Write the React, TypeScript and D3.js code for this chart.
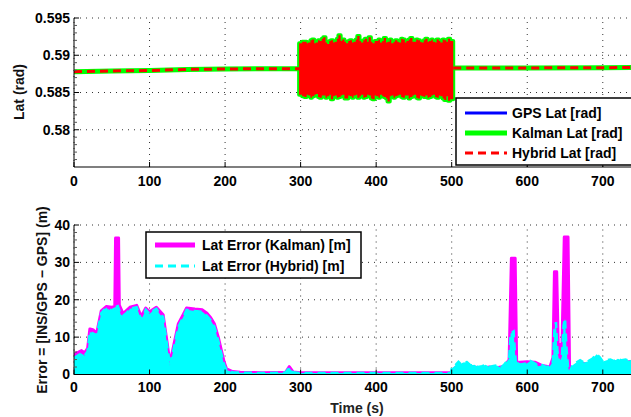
import React from 'react';
import * as d3 from 'd3';

const W = 631;
const H = 417;

const xTicks = [0, 100, 200, 300, 400, 500, 600, 700];
const latTicks = [0.58, 0.585, 0.59, 0.595];
const latTickLabels = ['0.58', '0.585', '0.59', '0.595'];
const errTicks = [0, 10, 20, 30, 40];

// Lat baseline (GPS / Kalman / Hybrid coincide outside the noisy window)
const latBefore: [number, number][] = [
  [0, 0.5878], [50, 0.5879], [100, 0.58795], [150, 0.5881], [200, 0.58815], [250, 0.5882], [298, 0.5882],
];
const latAfter: [number, number][] = [
  [502, 0.5883], [600, 0.5883], [700, 0.58833], [740, 0.58835],
];

// Noisy window 300–500 s: [time, upper envelope, lower envelope]
const latNoise: [number, number, number][] = [
  [298, 0.5916, 0.5847], [302, 0.5918, 0.5845], [305, 0.5918, 0.5844], [308, 0.5916, 0.5847], [310, 0.5917, 0.5846],
  [313, 0.592, 0.5843], [315, 0.5921, 0.5845], [318, 0.5916, 0.5847], [320, 0.5917, 0.5848], [323, 0.592, 0.5844],
  [325, 0.5919, 0.5843], [328, 0.5922, 0.5846], [330, 0.5924, 0.5846], [333, 0.5917, 0.5843], [335, 0.5915, 0.5845],
  [338, 0.5919, 0.5847], [340, 0.592, 0.5841], [343, 0.5917, 0.5845], [345, 0.5918, 0.5846], [348, 0.5922, 0.5843],
  [350, 0.5927, 0.5844], [353, 0.5919, 0.5846], [355, 0.5921, 0.5847], [358, 0.5918, 0.5842], [360, 0.5916, 0.5842],
  [363, 0.5919, 0.5846], [365, 0.592, 0.5845], [368, 0.5917, 0.5843], [370, 0.5918, 0.5846], [373, 0.5921, 0.5847],
  [375, 0.5926, 0.5843], [378, 0.5919, 0.5845], [380, 0.5917, 0.5847], [383, 0.592, 0.5843], [385, 0.5922, 0.5844],
  [388, 0.5918, 0.5847], [390, 0.5924, 0.5846], [393, 0.5918, 0.5842], [395, 0.5916, 0.5841], [398, 0.5919, 0.5846],
  [400, 0.5919, 0.5845], [403, 0.5921, 0.5843], [405, 0.5917, 0.5847], [408, 0.5919, 0.5845], [410, 0.5923, 0.5844],
  [413, 0.5917, 0.5842], [415, 0.5918, 0.5838], [418, 0.5921, 0.5845], [420, 0.5916, 0.5846], [423, 0.5918, 0.5843],
  [425, 0.592, 0.5845], [428, 0.5918, 0.5846], [430, 0.5917, 0.5847], [433, 0.5922, 0.5844], [435, 0.5921, 0.5843],
  [438, 0.5917, 0.5846], [440, 0.5919, 0.5846], [443, 0.5921, 0.5842], [445, 0.5923, 0.5844], [448, 0.5918, 0.5846],
  [450, 0.5918, 0.5847], [453, 0.5921, 0.5843], [455, 0.592, 0.5842], [458, 0.5918, 0.5846], [460, 0.5917, 0.5845],
  [463, 0.592, 0.5844], [465, 0.5922, 0.5846], [468, 0.5918, 0.5843], [470, 0.5919, 0.5844], [473, 0.5921, 0.5846],
  [475, 0.5918, 0.5847], [478, 0.5917, 0.5844], [480, 0.5921, 0.5843], [483, 0.5919, 0.5846], [485, 0.5917, 0.5845],
  [488, 0.5921, 0.5842], [490, 0.592, 0.584], [493, 0.5918, 0.5845], [495, 0.5922, 0.5839], [498, 0.5919, 0.5841],
  [502, 0.5918, 0.5845],
];

// Error envelopes [time, metres]
const kalmanErr: [number, number][] = [
  [0, 5.2], [3, 5.8], [6, 6.0], [10, 6.4], [14, 5.8], [18, 7.0], [21, 12.2], [25, 12.0], [30, 11.0],
  [36, 17.0], [43, 18.2], [50, 18.0], [54, 18.2], [55, 36.5], [59, 36.5], [60, 18.6], [65, 16.3],
  [74, 18.0], [83, 18.5], [89, 15.5], [95, 17.8], [100, 16.8], [109, 18.0], [118, 16.0], [123, 9.0],
  [127, 3.0], [132, 7.8], [138, 13.5], [145, 16.2], [149, 17.8], [160, 17.5], [170, 17.3], [176, 16.4],
  [181, 15.2], [186, 13.5], [191, 10.0], [195, 6.5], [199, 3.2], [202, 1.5], [210, 0.8], [220, 0.6],
  [250, 0.5], [280, 0.6], [285, 2.1], [290, 0.7], [300, 0.5], [350, 0.5], [400, 0.5], [450, 0.5],
  [499, 0.5], [500, 1.0], [505, 1.8], [509, 2.6], [515, 2.4], [520, 2.5], [530, 2.0], [540, 1.6],
  [550, 2.0], [560, 1.8], [570, 2.2], [576, 4.0], [579, 31.1], [584, 31.1], [586, 3.3], [590, 3.3],
  [600, 3.4], [610, 3.3], [620, 2.4], [630, 2.0], [634, 4.5], [636, 27.5], [639, 27.5], [641, 8.0],
  [646, 8.0], [649, 36.8], [654, 36.8], [656, 2.0], [660, 1.0], [670, 3.0], [680, 2.8], [692, 4.6],
  [700, 2.8], [710, 3.3], [720, 3.5], [730, 3.3], [740, 3.5],
];

const hybridErr: [number, number][] = [
  [0, 4.5], [3, 4.8], [6, 5.2], [10, 5.6], [14, 5.0], [18, 6.2], [21, 11.4], [25, 11.0], [30, 10.5],
  [36, 16.4], [43, 18.0], [47, 16.5], [50, 17.6], [58, 18.3], [62, 16.0], [65, 15.7], [70, 16.5], [74, 17.6],
  [83, 18.0], [89, 14.6], [95, 17.3], [100, 16.2], [104, 17.0], [109, 17.6], [114, 16.0], [118, 15.4],
  [123, 8.2], [127, 2.4], [132, 6.9], [138, 12.7], [145, 15.5], [149, 17.3], [160, 17.0], [170, 16.8],
  [176, 15.7], [181, 14.5], [186, 12.7], [191, 9.0], [195, 5.6], [199, 2.5], [202, 1.2], [210, 0.6],
  [220, 0.5], [250, 0.4], [280, 0.5], [285, 1.8], [290, 0.6], [300, 0.4], [350, 0.4], [400, 0.4],
  [450, 0.4], [499, 0.4], [500, 1.6], [505, 2.5], [509, 3.4], [512, 2.8], [515, 3.2], [520, 3.3],
  [525, 2.4], [530, 2.6], [535, 2.0], [540, 2.2], [545, 2.6], [550, 2.0], [555, 2.3], [560, 2.4],
  [565, 1.8], [570, 2.8], [576, 4.3], [578, 11.0], [582, 11.5], [583, 8.0], [585, 3.0], [588, 3.5],
  [590, 2.6], [595, 2.8], [600, 3.0], [604, 3.6], [610, 3.0], [615, 2.2], [620, 2.5], [625, 2.0],
  [630, 2.2], [634, 3.5], [636, 12.0], [638, 14.0], [640, 6.0], [643, 3.0], [646, 5.0], [648, 13.0],
  [650, 15.0], [652, 7.0], [654, 2.0], [656, 0.5], [660, 2.5], [665, 3.2], [670, 3.8], [675, 3.2],
  [680, 3.5], [686, 4.2], [692, 5.4], [696, 4.6], [700, 3.5], [705, 3.8], [710, 4.0], [715, 3.6],
  [720, 4.2], [725, 3.8], [730, 4.0], [735, 3.7], [740, 4.2],
];

const FONT = '"Liberation Sans", Arial, Helvetica, sans-serif';

const X0 = 74;
const X1 = 633;

export default function App() {
  const x = d3.scaleLinear().domain([0, 740]).range([X0, X1]);
  const yTop = d3.scaleLinear().domain([0.575, 0.595]).range([167, 18]);
  const yBot = d3.scaleLinear().domain([0, 40]).range([374.5, 225]);

  const latLine = d3.line<[number, number]>().x(d => x(d[0])).y(d => yTop(d[1]));
  const noiseArea = d3
    .area<[number, number, number]>()
    .x(d => x(d[0]))
    .y0(d => yTop(d[2]))
    .y1(d => yTop(d[1]))
    .curve(d3.curveStepAfter);

  const errArea = d3
    .area<[number, number]>()
    .x(d => x(d[0]))
    .y0(yBot(0))
    .y1(d => yBot(d[1]));
  const errLine = d3.line<[number, number]>().x(d => x(d[0])).y(d => yBot(d[1]));

  const minorTop = [0.576, 0.577, 0.578, 0.579, 0.581, 0.582, 0.583, 0.584, 0.586, 0.587, 0.588, 0.589, 0.591, 0.592, 0.593, 0.594];
  const minorBot = [2, 4, 6, 8, 12, 14, 16, 18, 22, 24, 26, 28, 32, 34, 36, 38];

  const grid = (yS: d3.ScaleLinear<number, number>, yTicks: number[], yMin: number, yMax: number) => (
    <g stroke="#333" strokeWidth={1} strokeDasharray="1,5">
      {xTicks.map(t => (
        <line key={'gx' + t} x1={x(t)} x2={x(t)} y1={yS(yMin)} y2={yS(yMax)} />
      ))}
      {yTicks.map(t => (
        <line key={'gy' + t} x1={X0} x2={X1} y1={yS(t)} y2={yS(t)} />
      ))}
    </g>
  );

  const axes = (yS: d3.ScaleLinear<number, number>, yTicks: number[], minors: number[], yMin: number, yMax: number) => (
    <g stroke="#000">
      <line x1={X0} x2={X0} y1={yS(yMin)} y2={yS(yMax)} strokeWidth={1} />
      <line x1={X0} x2={X1} y1={yS(yMin)} y2={yS(yMin)} strokeWidth={1.2} />
      {yTicks.map(t => (
        <line key={'ty' + t} x1={X0} x2={X0 + 5} y1={yS(t)} y2={yS(t)} />
      ))}
      {minors.map(t => (
        <line key={'my' + t} x1={X0} x2={X0 + 3} y1={yS(t)} y2={yS(t)} stroke="#555" />
      ))}
      {xTicks.map(t => (
        <line key={'tx' + t} x1={x(t)} x2={x(t)} y1={yS(yMin)} y2={yS(yMin) - 5} />
      ))}
    </g>
  );

  return (
    <svg
      width={W}
      height={H}
      style={{ position: 'absolute', left: 0, top: 0, background: '#fff' }}
      fontFamily={FONT}
    >
      <defs>
        <clipPath id="clipTop">
          <rect x={X0} y={18} width={X1 - X0} height={149} />
        </clipPath>
        <clipPath id="clipBot">
          <rect x={X0} y={225} width={X1 - X0} height={149.5} />
        </clipPath>
      </defs>
      <rect x={0} y={0} width={W} height={H} fill="#fff" />

      {/* ---------- Top panel ---------- */}
      {grid(yTop, latTicks, 0.575, 0.595)}
      <g clipPath="url(#clipTop)">
        {/* GPS */}
        <path d={latLine(latBefore) || ''} fill="none" stroke="#0000ff" strokeWidth={3} />
        <path d={latLine(latAfter) || ''} fill="none" stroke="#0000ff" strokeWidth={3} />
        {/* Kalman */}
        <path d={latLine(latBefore) || ''} fill="none" stroke="#00ff00" strokeWidth={5} />
        <path d={latLine(latAfter) || ''} fill="none" stroke="#00ff00" strokeWidth={5} />
        <path d={noiseArea(latNoise) || ''} fill="#00ff00" stroke="#00ff00" strokeWidth={4} strokeLinejoin="round" />
        {/* Hybrid */}
        <path d={noiseArea(latNoise) || ''} fill="#ff0000" />
        <path d={latLine(latBefore) || ''} fill="none" stroke="#ff0000" strokeWidth={3} strokeDasharray="8,5" />
        <path d={latLine(latAfter) || ''} fill="none" stroke="#ff0000" strokeWidth={3} strokeDasharray="8,5" />
      </g>
      {axes(yTop, latTicks, minorTop, 0.575, 0.595)}
      <g fontSize={14} fontWeight="bold" fill="#000">
        {latTicks.map((t, i) => (
          <text key={'ly' + t} x={X0 - 4} y={yTop(t)} dy="0.35em" textAnchor="end">
            {latTickLabels[i]}
          </text>
        ))}
        {xTicks.map(t => (
          <text key={'lx' + t} x={x(t)} y={181} dy="0.35em" textAnchor="middle">
            {t}
          </text>
        ))}
      </g>
      <text
        transform="translate(19,92) rotate(-90)"
        textAnchor="middle"
        dy="0.35em"
        fontSize={14}
        fontWeight="bold"
        fill="#111"
      >
        Lat (rad)
      </text>

      {/* Top legend */}
      <g>
        <rect x={456} y={98} width={190} height={67} fill="#fff" stroke="#000" strokeWidth={1.5} />
        <line x1={465} x2={507} y1={113} y2={113} stroke="#0000ff" strokeWidth={3} />
        <line x1={465} x2={507} y1={133} y2={133} stroke="#00ff00" strokeWidth={5} />
        <line x1={465} x2={507} y1={153} y2={153} stroke="#ff0000" strokeWidth={3} strokeDasharray="8,5" />
        <g fontSize={14} fontWeight="bold" fill="#000">
          <text x={512} y={113} dy="0.35em">GPS Lat [rad]</text>
          <text x={512} y={133} dy="0.35em">Kalman Lat [rad]</text>
          <text x={512} y={153} dy="0.35em">Hybrid Lat [rad]</text>
        </g>
      </g>

      {/* ---------- Bottom panel ---------- */}
      {grid(yBot, errTicks, 0, 40)}
      <g clipPath="url(#clipBot)">
        <path d={errArea(kalmanErr) || ''} fill="#ff00ff" />
        <path d={errLine(kalmanErr) || ''} fill="none" stroke="#ff00ff" strokeWidth={3} strokeLinejoin="round" />
        <path d={errArea(hybridErr) || ''} fill="#00ffff" />
        <path d={errLine(hybridErr) || ''} fill="none" stroke="#00ffff" strokeWidth={2.5} strokeDasharray="8,5" />
      </g>
      {axes(yBot, errTicks, minorBot, 0, 40)}
      <g fontSize={14} fontWeight="bold" fill="#000">
        {errTicks.map(t => (
          <text key={'ey' + t} x={X0 - 4} y={yBot(t)} dy="0.35em" textAnchor="end">
            {t}
          </text>
        ))}
        {xTicks.map(t => (
          <text key={'ex' + t} x={x(t)} y={387} dy="0.35em" textAnchor="middle">
            {t}
          </text>
        ))}
      </g>
      <text x={357} y={408} dy="0.35em" textAnchor="middle" fontSize={14} fontWeight="bold" fill="#222">
        Time (s)
      </text>
      <text
        transform="translate(42,300) rotate(-90)"
        textAnchor="middle"
        dy="0.35em"
        fontSize={14}
        fontWeight="bold"
        fill="#111"
      >
        Error = [INS/GPS − GPS] (m)
      </text>

      {/* Bottom legend */}
      <g>
        <rect x={146} y={232} width={215} height={46} fill="#fff" stroke="#000" strokeWidth={1.5} />
        <line x1={155} x2={195} y1={245} y2={245} stroke="#ff00ff" strokeWidth={5} />
        <line x1={155} x2={195} y1={266} y2={266} stroke="#00ffff" strokeWidth={3} strokeDasharray="8,5" />
        <g fontSize={14} fontWeight="bold" fill="#000">
          <text x={202} y={245} dy="0.35em">Lat Error (Kalman) [m]</text>
          <text x={202} y={266} dy="0.35em">Lat Error (Hybrid) [m]</text>
        </g>
      </g>
    </svg>
  );
}
